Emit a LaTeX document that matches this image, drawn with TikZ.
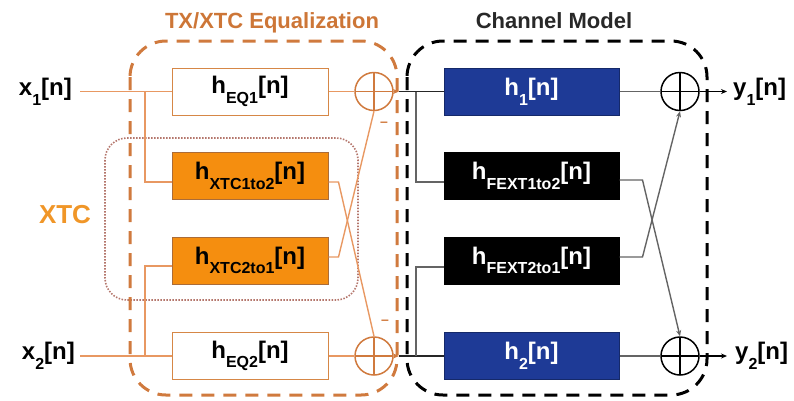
\documentclass[tikz,border=0pt]{standalone}
\usepackage{fontspec}
\setmainfont{Liberation Sans}
\usetikzlibrary{arrows.meta}

\definecolor{eqtitle}{RGB}{205,118,55}
\definecolor{eqdashc}{RGB}{208,122,62}
\definecolor{eqwire}{RGB}{232,152,98}
\definecolor{eqedge}{RGB}{214,135,70}
\definecolor{xtcfill}{RGB}{245,142,15}
\definecolor{xtclabel}{RGB}{240,150,40}
\definecolor{xtcdotc}{RGB}{180,118,108}
\definecolor{chblue}{RGB}{30,58,150}
\definecolor{chwire}{RGB}{100,100,100}
\definecolor{chtitle}{RGB}{40,40,40}

% lowered, smaller subscript used inside the block labels
\newcommand{\lowsub}[1]{\raisebox{-0.4em}{\fontsize{16}{16}\selectfont #1}}

\tikzset{
  lbl/.style={font=\fontsize{24}{24}\selectfont\bfseries, inner sep=0pt},
  ttl/.style={font=\fontsize{22}{22}\selectfont\bfseries, inner sep=0pt, anchor=base},
  blk/.style={lbl, minimum height=47pt, line width=1pt},
  eqblk/.style={blk, draw=eqedge, fill=white, minimum width=156pt},
  xtcblk/.style={blk, draw=eqedge!80!black, fill=xtcfill, minimum width=156pt},
  chblk/.style={blk, draw=chblue!70!black, fill=chblue, text=white, minimum width=175pt},
  fextblk/.style={blk, draw=black, fill=black, text=white, minimum width=175pt},
  adder/.style={circle, minimum size=38pt, inner sep=0pt, line width=1.5pt,
    path picture={\draw[line width=1.3pt]
      (path picture bounding box.north) -- (path picture bounding box.south)
      (path picture bounding box.west) -- (path picture bounding box.east);}},
  eqw/.style={draw=eqwire, line width=1.4pt},
  chw/.style={draw=chwire, line width=1.4pt},
  tip/.style={-{Stealth[length=6pt,width=5pt]}},
  grp/.style={line width=3pt, dash pattern=on 13pt off 9pt, rounded corners=36pt},
}

\begin{document}
\begin{tikzpicture}[x=1pt,y=-1pt]
\useasboundingbox (0,0) rectangle (794,400);

% group outlines
\draw[draw=xtcdotc, line width=1.6pt, dash pattern=on 1.5pt off 1.5pt, rounded corners=22pt]
  (105,138) rectangle (358,300);
\draw[grp, draw=eqdashc] (130,41) rectangle (397,395);
\draw[grp, draw=black] (407,41) rectangle (707,395);

% titles
\node[ttl, text=eqtitle] (tEq) at (272,28) {TX/XTC Equalization};
\node[ttl, text=chtitle] (tCh) at (554,28) {Channel Model};
\node[font=\fontsize{26}{26}\selectfont\bfseries, text=xtclabel, inner sep=0pt] (tXtc) at (65,215) {XTC};

% equalizer blocks
\node[eqblk] (eq1) at (250,91.5) {h\lowsub{EQ1}[n]};
\node[xtcblk] (xtc12) at (250,176) {h\lowsub{XTC1to2}[n]};
\node[xtcblk] (xtc21) at (250,260.5) {h\lowsub{XTC2to1}[n]};
\node[eqblk] (eq2) at (250,356) {h\lowsub{EQ2}[n]};

% channel blocks
\node[chblk] (h1) at (531.5,91.5) {h\lowsub{1}[n]};
\node[fextblk] (fext12) at (531.5,176) {h\lowsub{FEXT1to2}[n]};
\node[fextblk] (fext21) at (531.5,260.5) {h\lowsub{FEXT2to1}[n]};
\node[chblk] (h2) at (531.5,356) {h\lowsub{2}[n]};

% adders
\node[adder, draw=eqdashc] (sumA) at (374,91.5) {};
\node[adder, draw=eqdashc] (sumB) at (374,356) {};
\node[adder, draw=black] (sumC) at (680,91.5) {};
\node[adder, draw=black] (sumD) at (680,356) {};

% inputs and outputs
\node[lbl, anchor=east] (x1) at (72,91.5) {x\lowsub{1}[n]};
\node[lbl, anchor=east] (x2) at (75,356) {x\lowsub{2}[n]};
\node[lbl, anchor=west] (y1) at (733,91.5) {y\lowsub{1}[n]};
\node[lbl, anchor=west] (y2) at (735,356) {y\lowsub{2}[n]};

% junctions
\coordinate (bx1) at (145,91.5);
\coordinate (bx2) at (145,356);
\coordinate (j1) at (399,91.5);
\coordinate (j2) at (399,356);
\coordinate (bc1) at (416,91.5);
\coordinate (bc2) at (416,356);
\coordinate (o1) at (727,91.5);
\coordinate (o2) at (727,356);

% equalizer wiring
\draw[eqw] ([xshift=8pt]x1.east) -- (eq1.west);
\draw[eqw] ([xshift=5pt]x2.east) -- (eq2.west);
\draw[eqw] (bx1) |- ([yshift=-6pt]xtc12.west);
\draw[eqw] (bx2) |- ([yshift=-5.5pt]xtc21.west);
\draw[eqw] (eq1.east) -- (sumA.west);
\draw[eqw] (eq2.east) -- (sumB.west);
\draw[eqw] ([yshift=-6pt]xtc12.east) -- ++(10,0) -- (sumB.north);
\draw[eqw] ([yshift=3.5pt]xtc21.east) -- ++(10,0) -- (sumA.south);
\draw[eqw, tip, draw=eqdashc] (sumA.east) -- (j1);
\draw[eqw, tip, draw=eqdashc] (sumB.east) -- (j2);
\node[text=eqdashc, font=\fontsize{14}{14}\selectfont\bfseries, inner sep=0pt] (mA) at (384,124) {–};
\node[text=eqdashc, font=\fontsize{14}{14}\selectfont\bfseries, inner sep=0pt] (mB) at (385,322) {–};

% channel wiring
\draw[line width=1.4pt, draw=black!85] (j1) -- (h1.west);
\draw[line width=1.4pt, draw=black!85] (j2) -- (h2.west);
\draw[chw] (bc1) |- ([yshift=-6pt]fext12.west);
\draw[chw] (bc2) |- ([yshift=-6.5pt]fext21.west);
\draw[chw] (h1.east) -- (sumC.west);
\draw[chw] (h2.east) -- (sumD.west);
\draw[chw, tip] ([yshift=-4pt]fext12.east) -- ++(23,0) -- (sumD.north);
\draw[chw, tip] ([yshift=3.5pt]fext21.east) -- ++(23,0) -- (sumC.south);
\draw[chw, tip, draw=black] (sumC.east) -- (o1);
\draw[chw, tip, draw=black] (sumD.east) -- (o2);
\end{tikzpicture}
\end{document}
